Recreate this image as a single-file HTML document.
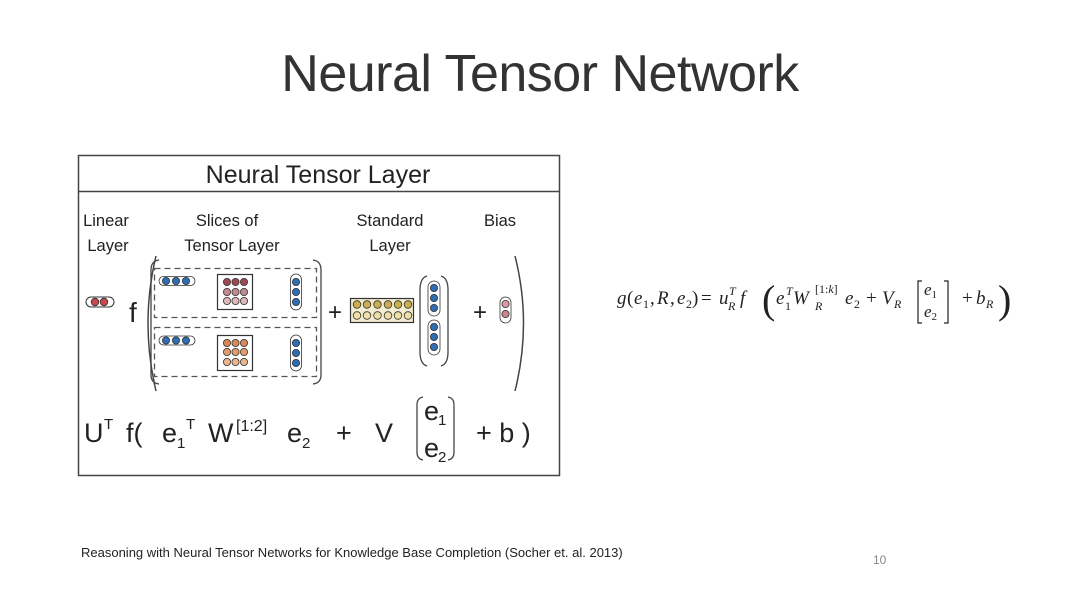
<!DOCTYPE html>
<html><head><meta charset="utf-8"><style>
html,body{margin:0;padding:0;background:#fff}
body{width:1080px;height:608px;position:relative;overflow:hidden;font-family:"Liberation Sans",sans-serif}
.t{position:absolute;white-space:nowrap}
</style></head><body>
<div class="t" style="left:0;width:1080px;top:44px;text-align:center;font-size:52px;color:#333;letter-spacing:-0.5px;">Neural Tensor Network</div>

<svg width="1080" height="608" style="position:absolute;left:0;top:0" font-family="Liberation Sans, sans-serif">
<rect x="78.5" y="155.5" width="481" height="320" fill="none" stroke="#444" stroke-width="1.5"/>
<line x1="78" y1="191.5" x2="560" y2="191.5" stroke="#444" stroke-width="1.5"/>
<text x="318" y="183" font-size="25" text-anchor="middle" fill="#222">Neural Tensor Layer</text>
<g font-size="16.5" fill="#222" text-anchor="middle">
<text x="106" y="226">Linear</text><text x="108" y="251">Layer</text>
<text x="227" y="226">Slices of</text><text x="232" y="251">Tensor Layer</text>
<text x="390" y="226">Standard</text><text x="390" y="251">Layer</text>
<text x="500" y="226">Bias</text>
</g>
<rect x="86" y="297" width="28" height="10" rx="5" fill="#fff" stroke="#333"/>
<circle cx="95" cy="302" r="3.8" fill="#c9474f" stroke="#333" stroke-width=".8"/>
<circle cx="104" cy="302" r="3.8" fill="#c9474f" stroke="#333" stroke-width=".8"/>
<text x="129" y="322" font-size="28" fill="#222">f</text>
<path d="M156 256 Q140 323 156 391" fill="none" stroke="#444" stroke-width="1.5"/>
<path d="M515 256 Q532 323 515 391" fill="none" stroke="#444" stroke-width="1.5"/>
<path d="M159 260 Q151 261 151 270 L151 375 Q151 383 159 384" fill="none" stroke="#444" stroke-width="1.3"/>
<path d="M313 260 Q321 261 321 270 L321 375 Q321 383 313 384" fill="none" stroke="#444" stroke-width="1.3"/>
<rect x="154.5" y="268.5" width="162" height="49" fill="none" stroke="#555" stroke-width="1.3" stroke-dasharray="6 4"/>
<rect x="154.5" y="327.5" width="162" height="49" fill="none" stroke="#555" stroke-width="1.3" stroke-dasharray="6 4"/>
<g stroke="#333" stroke-width=".8">
<rect x="159" y="276.5" width="36" height="9" rx="4.5" fill="#fff"/>
<circle cx="166" cy="281" r="3.6" fill="#2f6db5"/><circle cx="176" cy="281" r="3.6" fill="#2f6db5"/><circle cx="186" cy="281" r="3.6" fill="#2f6db5"/>
<rect x="217.5" y="274.5" width="35" height="35" fill="#fff" stroke-width="1.2"/>
<circle cx="227" cy="282" r="3.6" fill="#9e4a55"/><circle cx="235.5" cy="282" r="3.6" fill="#9e4a55"/><circle cx="244" cy="282" r="3.6" fill="#9e4a55"/>
<circle cx="227" cy="292" r="3.6" fill="#c08a90"/><circle cx="235.5" cy="292" r="3.6" fill="#c08a90"/><circle cx="244" cy="292" r="3.6" fill="#c08a90"/>
<circle cx="227" cy="301" r="3.6" fill="#dcb7ba"/><circle cx="235.5" cy="301" r="3.6" fill="#dcb7ba"/><circle cx="244" cy="301" r="3.6" fill="#dcb7ba"/>
<rect x="290.5" y="274" width="11" height="36" rx="5.5" fill="#fff"/>
<circle cx="296" cy="282" r="3.6" fill="#2f6db5"/><circle cx="296" cy="292" r="3.6" fill="#2f6db5"/><circle cx="296" cy="302" r="3.6" fill="#2f6db5"/>
<rect x="159" y="336" width="36" height="9" rx="4.5" fill="#fff"/>
<circle cx="166" cy="340.5" r="3.6" fill="#2f6db5"/><circle cx="176" cy="340.5" r="3.6" fill="#2f6db5"/><circle cx="186" cy="340.5" r="3.6" fill="#2f6db5"/>
<rect x="217.5" y="335.5" width="35" height="35" fill="#fff" stroke-width="1.2"/>
<circle cx="227" cy="343" r="3.6" fill="#d9885a"/><circle cx="235.5" cy="343" r="3.6" fill="#d9885a"/><circle cx="244" cy="343" r="3.6" fill="#d9885a"/>
<circle cx="227" cy="352" r="3.6" fill="#e29d6c"/><circle cx="235.5" cy="352" r="3.6" fill="#e29d6c"/><circle cx="244" cy="352" r="3.6" fill="#e29d6c"/>
<circle cx="227" cy="362" r="3.6" fill="#ebb68d"/><circle cx="235.5" cy="362" r="3.6" fill="#ebb68d"/><circle cx="244" cy="362" r="3.6" fill="#ebb68d"/>
<rect x="290.5" y="335" width="11" height="36" rx="5.5" fill="#fff"/>
<circle cx="296" cy="343" r="3.6" fill="#2f6db5"/><circle cx="296" cy="353" r="3.6" fill="#2f6db5"/><circle cx="296" cy="363" r="3.6" fill="#2f6db5"/>
<rect x="350.5" y="298.5" width="63" height="24" fill="#f3ecd0" stroke-width="1.2"/>
<circle cx="357" cy="304.5" r="3.8" fill="#cbae4e"/><circle cx="367" cy="304.5" r="3.8" fill="#cbae4e"/><circle cx="377.5" cy="304.5" r="3.8" fill="#cbae4e"/><circle cx="388" cy="304.5" r="3.8" fill="#cbae4e"/><circle cx="398" cy="304.5" r="3.8" fill="#cbae4e"/><circle cx="408" cy="304.5" r="3.8" fill="#cbae4e"/>
<circle cx="357" cy="315.5" r="3.8" fill="#f0e0a8"/><circle cx="367" cy="315.5" r="3.8" fill="#f0e0a8"/><circle cx="377.5" cy="315.5" r="3.8" fill="#f0e0a8"/><circle cx="388" cy="315.5" r="3.8" fill="#f0e0a8"/><circle cx="398" cy="315.5" r="3.8" fill="#f0e0a8"/><circle cx="408" cy="315.5" r="3.8" fill="#f0e0a8"/>
<rect x="428" y="281" width="12" height="35" rx="6" fill="#fff"/>
<circle cx="434" cy="288" r="3.6" fill="#2f6db5"/><circle cx="434" cy="298" r="3.6" fill="#2f6db5"/><circle cx="434" cy="308" r="3.6" fill="#2f6db5"/>
<rect x="428" y="320" width="12" height="35" rx="6" fill="#fff"/>
<circle cx="434" cy="327" r="3.6" fill="#2f6db5"/><circle cx="434" cy="337" r="3.6" fill="#2f6db5"/><circle cx="434" cy="347" r="3.6" fill="#2f6db5"/>
<rect x="500" y="297" width="11" height="26" rx="5.5" fill="#fff"/>
<circle cx="505.5" cy="304" r="3.6" fill="#d99aa0"/><circle cx="505.5" cy="314" r="3.6" fill="#c8868c"/>
</g>
<path d="M427 276 Q420 278 420 290 L420 352 Q420 364 427 366" fill="none" stroke="#444" stroke-width="1.3"/>
<path d="M441 276 Q448 278 448 290 L448 352 Q448 364 441 366" fill="none" stroke="#444" stroke-width="1.3"/>
<text x="328" y="320" font-size="24" fill="#222">+</text>
<text x="473" y="320" font-size="24" fill="#222">+</text>
<g font-size="27" fill="#222">
<text x="84" y="442">U</text><text x="104" y="429" font-size="15">T</text>
<text x="126" y="442">f(</text>
<text x="162" y="442">e</text><text x="177" y="448" font-size="15">1</text><text x="186" y="429" font-size="15">T</text>
<text x="208" y="442">W</text><text x="236" y="431" font-size="16">[1:2]</text>
<text x="287" y="442">e</text><text x="302" y="448" font-size="15">2</text>
<text x="336" y="442">+</text>
<text x="375" y="442">V</text>
<text x="424" y="420">e</text><text x="438" y="425" font-size="15">1</text>
<text x="424" y="457">e</text><text x="438" y="462" font-size="15">2</text>
<text x="476" y="442">+ b )</text>
</g>
<path d="M423 397 Q417 398 417 405 L417 452 Q417 459 423 460" fill="none" stroke="#444" stroke-width="1.3"/>
<path d="M448 397 Q454 398 454 405 L454 452 Q454 459 448 460" fill="none" stroke="#444" stroke-width="1.3"/>
<g font-family="Liberation Serif, serif" fill="#222" font-size="19">
<text x="617" y="304" font-style="italic">g</text>
<text x="627" y="304">(</text>
<text x="634" y="304" font-style="italic">e</text><text x="643" y="308" font-size="12">1</text>
<text x="650" y="304">,</text>
<text x="657" y="304" font-style="italic">R</text>
<text x="670" y="304">,</text>
<text x="677" y="304" font-style="italic">e</text><text x="686" y="308" font-size="12">2</text>
<text x="692" y="304">)</text>
<text x="701" y="304">=</text>
<text x="719" y="304" font-style="italic">u</text>
<text x="729" y="295" font-size="12" font-style="italic">T</text>
<text x="728" y="310" font-size="12" font-style="italic">R</text>
<text x="740" y="304" font-style="italic">f</text>
<text x="762" y="313" font-size="40">(</text>
<text x="776" y="304" font-style="italic">e</text>
<text x="786" y="295" font-size="12" font-style="italic">T</text><text x="785" y="310" font-size="12">1</text>
<text x="793" y="304" font-style="italic">W</text>
<text x="815" y="293" font-size="12">[1:<tspan font-style="italic">k</tspan>]</text>
<text x="815" y="310" font-size="12" font-style="italic">R</text>
<text x="845" y="304" font-style="italic">e</text><text x="854" y="308" font-size="12">2</text>
<text x="866" y="304">+</text>
<text x="882" y="304" font-style="italic">V</text><text x="894" y="308" font-size="12" font-style="italic">R</text>
<text x="924" y="295" font-size="17" font-style="italic">e<tspan font-size="11" dy="3" font-style="normal">1</tspan></text>
<text x="924" y="317" font-size="17" font-style="italic">e<tspan font-size="11" dy="3" font-style="normal">2</tspan></text>
<text x="962" y="304">+</text>
<text x="976" y="304" font-style="italic">b</text><text x="986" y="308" font-size="12" font-style="italic">R</text>
<text x="998" y="313" font-size="40">)</text>
</g>
<path d="M922 281 L918 281 L918 323 L922 323" fill="none" stroke="#222" stroke-width="1.2"/>
<path d="M944 281 L948 281 L948 323 L944 323" fill="none" stroke="#222" stroke-width="1.2"/>
</svg>

<div class="t" style="left:81px;top:545px;font-size:13px;color:#222">Reasoning with Neural Tensor Networks for Knowledge Base Completion (Socher et. al. 2013)</div>
<div class="t" style="left:873px;top:553px;font-size:12px;color:#888">10</div>
</body></html>
